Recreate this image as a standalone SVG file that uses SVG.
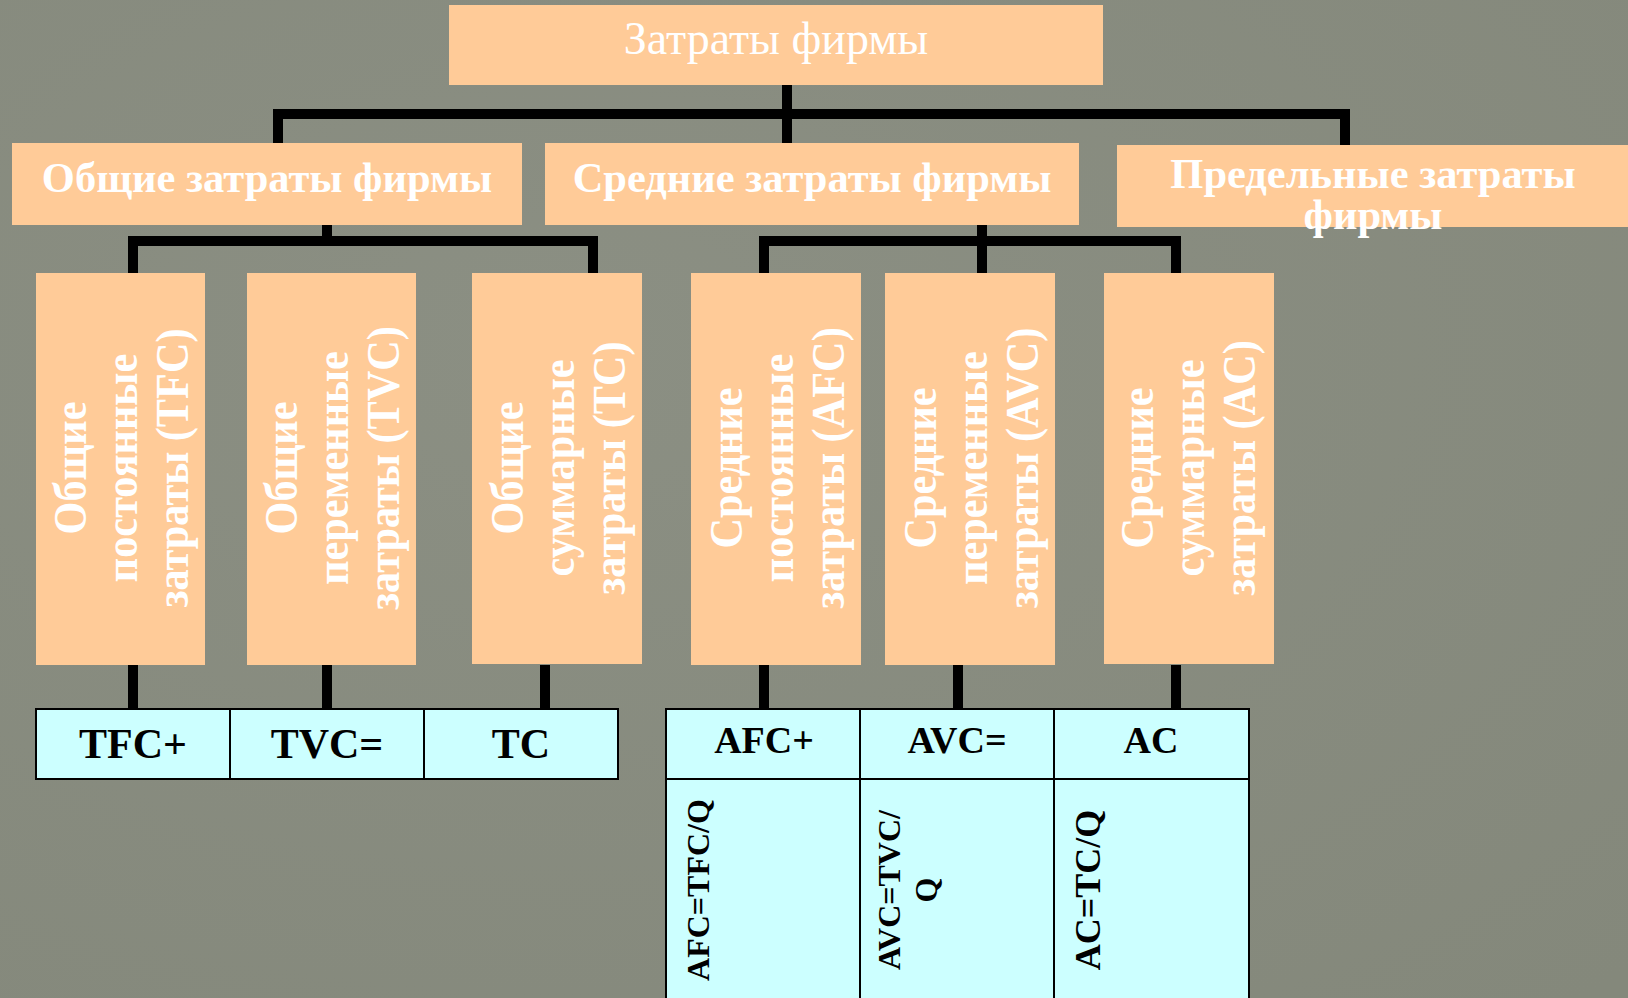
<svg xmlns="http://www.w3.org/2000/svg" width="1628" height="998" viewBox="0 0 1628 998">
<defs>
<style>
.box{fill:#FFCB98}
.cell{fill:#CCFFFF;stroke:#000;stroke-width:2}
.grid{stroke:#000;stroke-width:2;fill:none}
.con{stroke:#000;stroke-width:10;fill:none;stroke-linejoin:miter;stroke-linecap:butt}
.t0{font-family:"Liberation Serif","Times New Roman",serif;font-size:46px;fill:#fff;text-anchor:middle}
.t1{font-family:"Liberation Serif","Times New Roman",serif;font-size:42.5px;font-weight:bold;fill:#fff;text-anchor:middle}
.tv{font-family:"Liberation Serif","Times New Roman",serif;font-size:46px;font-weight:bold;fill:#fff;text-anchor:middle}
.tk{font-family:"Liberation Serif","Times New Roman",serif;font-weight:bold;fill:#000;text-anchor:middle}
</style>
<radialGradient id="bgg" cx="0.35" cy="0.35" r="0.9">
<stop offset="0" stop-color="#8b8f83"/>
<stop offset="1" stop-color="#84887b"/>
</radialGradient>
</defs>
<rect x="0" y="0" width="1628" height="998" fill="url(#bgg)"/>

<g id="connectors">
<path class="con" d="M278,143 V114 H1345 V146"/>
<path class="con" d="M787,85 V143"/>
<path class="con" d="M133,273 V241 H593 V273"/>
<path class="con" d="M327,225 V241"/>
<path class="con" d="M764,273 V241 H1176 V273"/>
<path class="con" d="M982,225 V273"/>
<path class="con" d="M133,665 V709 M327,665 V709 M545,665 V709"/>
<path class="con" d="M764,665 V709 M958,665 V709 M1176,665 V709"/>
</g>

<g id="root">
<rect class="box" x="449" y="5" width="654" height="80"/>
<text class="t0" x="776" y="54">Затраты фирмы</text>
</g>

<g id="total">
<rect class="box" x="12" y="143" width="510" height="82"/>
<text class="t1" x="267" y="192">Общие затраты фирмы</text>
</g>
<g id="average">
<rect class="box" x="545" y="143" width="534" height="82"/>
<text class="t1" x="812" y="192">Средние затраты фирмы</text>
</g>
<g id="marginal">
<rect class="box" x="1117" y="145" width="520" height="82"/>
<text class="t1" x="1373" y="188">Предельные затраты</text>
<text class="t1" x="1373" y="229">фирмы</text>
</g>

<g id="tfc">
<rect class="box" x="36" y="273" width="169" height="392"/>
<g transform="translate(0,468) rotate(-90) scale(0.92,1)">
<text class="tv" x="0" y="86">Общие</text>
<text class="tv" x="0" y="137">постоянные</text>
<text class="tv" x="0" y="188">затраты (TFC)</text>
</g>
</g>
<g id="tvc">
<rect class="box" x="247" y="273" width="169" height="392"/>
<g transform="translate(0,468) rotate(-90) scale(0.92,1)">
<text class="tv" x="0" y="297">Общие</text>
<text class="tv" x="0" y="348">переменные</text>
<text class="tv" x="0" y="399">затраты (TVC)</text>
</g>
</g>
<g id="tc">
<rect class="box" x="472" y="273" width="170" height="391"/>
<g transform="translate(0,468) rotate(-90) scale(0.92,1)">
<text class="tv" x="0" y="523">Общие</text>
<text class="tv" x="0" y="574">суммарные</text>
<text class="tv" x="0" y="625">затраты (TC)</text>
</g>
</g>
<g id="afc">
<rect class="box" x="691" y="273" width="170" height="392"/>
<g transform="translate(0,468) rotate(-90) scale(0.92,1)">
<text class="tv" x="0" y="742">Средние</text>
<text class="tv" x="0" y="793">постоянные</text>
<text class="tv" x="0" y="844">затраты (AFC)</text>
</g>
</g>
<g id="avc">
<rect class="box" x="885" y="273" width="170" height="392"/>
<g transform="translate(0,468) rotate(-90) scale(0.92,1)">
<text class="tv" x="0" y="936">Средние</text>
<text class="tv" x="0" y="987">переменные</text>
<text class="tv" x="0" y="1038">затраты (AVC)</text>
</g>
</g>
<g id="ac">
<rect class="box" x="1104" y="273" width="170" height="391"/>
<g transform="translate(0,468) rotate(-90) scale(0.92,1)">
<text class="tv" x="0" y="1153">Средние</text>
<text class="tv" x="0" y="1204">суммарные</text>
<text class="tv" x="0" y="1255">затраты (AC)</text>
</g>
</g>

<g id="total-table">
<rect class="cell" x="36" y="709" width="582" height="70"/>
<path class="grid" d="M230,709 V779 M424,709 V779"/>
<text class="tk" x="133" y="758" font-size="42">TFC+</text>
<text class="tk" x="327" y="758" font-size="42">TVC=</text>
<text class="tk" x="521" y="758" font-size="42">TC</text>
</g>

<g id="average-table">
<rect class="cell" x="666" y="709" width="583" height="300"/>
<path class="grid" d="M860,709 V1000 M1054,709 V1000 M666,779 H1249"/>
<text class="tk" x="764" y="753" font-size="38">AFC+</text>
<text class="tk" x="957" y="753" font-size="38">AVC=</text>
<text class="tk" x="1151" y="753" font-size="38">AC</text>
<g transform="translate(0,890) rotate(-90)">
<text class="tk" x="0" y="709" font-size="32">AFC=TFC/Q</text>
<text class="tk" x="0" y="900" font-size="32">AVC=TVC/</text>
<text class="tk" x="0" y="937" font-size="32">Q</text>
<text class="tk" x="0" y="1100" font-size="36">AC=TC/Q</text>
</g>
</g>
</svg>
